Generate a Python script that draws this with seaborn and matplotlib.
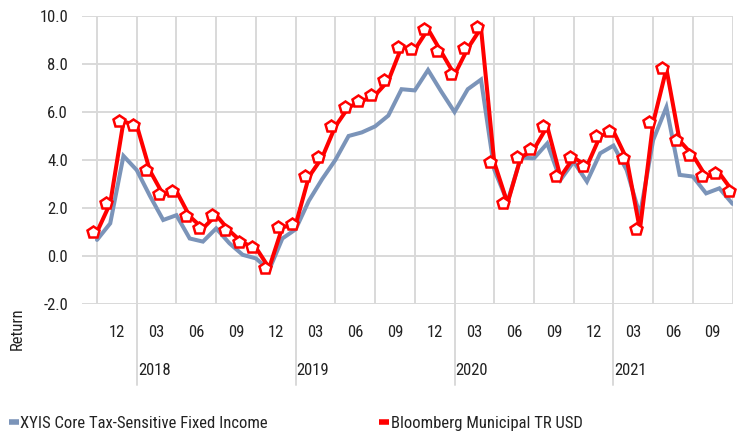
import matplotlib
matplotlib.use("Agg")
import matplotlib.pyplot as plt
import matplotlib.transforms as mtransforms
from matplotlib.lines import Line2D
from matplotlib import font_manager
import numpy as np
import pandas as pd
import seaborn as sns

# ---------------- data ----------------
months = [str(p) for p in pd.period_range("2017-09", periods=49, freq="M")]
xyis = [0.67, 1.36, 4.17, 3.58, 2.5, 1.5, 1.7, 0.73, 0.6, 1.15,
        0.53, 0.05, -0.1, -0.58, 0.73, 1.11, 2.3, 3.2, 4.0, 5.0,
        5.15, 5.4, 5.85, 6.95, 6.9, 7.75, 6.85, 6.0, 6.95, 7.35,
        3.6, 2.25, 4.1, 4.07, 4.69, 3.17, 3.93, 3.1, 4.28, 4.6,
        3.58, 1.7, 4.83, 6.2, 3.38, 3.31, 2.61, 2.82, 2.17]
bbg = [1.0, 2.2, 5.6, 5.45, 3.55, 2.55, 2.7, 1.65, 1.15, 1.7,
       1.05, 0.55, 0.35, -0.5, 1.2, 1.3, 3.3, 4.1, 5.4, 6.2,
       6.45, 6.7, 7.3, 8.7, 8.6, 9.45, 8.5, 7.55, 8.65, 9.5,
       3.9, 2.2, 4.1, 4.45, 5.4, 3.3, 4.1, 3.75, 5.0, 5.2,
       4.05, 1.1, 5.55, 7.8, 4.8, 4.2, 3.3, 3.45, 2.7]
series_names = ["XYIS Core Tax-Sensitive Fixed Income", "Bloomberg Municipal TR USD"]
quarter_labels = ["12", "03", "06", "09"] * 4
year_labels = ["2018", "2019", "2020", "2021"]
y_ticks = [-2.0, 0.0, 2.0, 4.0, 6.0, 8.0, 10.0]

colors = {series_names[0]: "#7b94b9", series_names[1]: "#ff0000"}

# ---------------- style ----------------
sns.set_theme(style="white")
names = {f.name for f in font_manager.fontManager.ttflist}
narrow = [n for n in ["Liberation Sans Narrow", "Roboto Condensed", "Open Sans Condensed",
                      "DejaVu Sans Condensed"] if n in names]
plt.rcParams["font.family"] = narrow + ["DejaVu Sans"]
plt.rcParams["font.stretch"] = "condensed"
plt.rcParams["axes.unicode_minus"] = False
TXT = "#222222"
FS = 12

W, H = 739, 436
fig = plt.figure(figsize=(W / 100, H / 100), dpi=100)
L, R, T, B = 82, 733, 16, 304
ax = fig.add_axes([L / W, 1 - B / H, (R - L) / W, (B - T) / H])

n = len(months)
idx = np.arange(n)
df = pd.DataFrame({
    "x": np.concatenate([idx, idx]),
    "value": xyis + bbg,
    "series": [series_names[0]] * n + [series_names[1]] * n,
})

sns.lineplot(data=df, x="x", y="value", hue="series", hue_order=series_names,
             palette=colors, linewidth=2.9, legend=False, ax=ax,
             sort=False, estimator=None)
for ln in ax.get_lines():
    ln.set_solid_joinstyle("miter")
ax.get_lines()[0].set_zorder(3)
ax.get_lines()[1].set_zorder(4)

# pentagon markers for the index series (drawn slightly left of the vertices as in the reference)
off = mtransforms.ScaledTranslation(-4 / 100, 0.5 / 100, fig.dpi_scale_trans)
ax.plot(idx, bbg, linestyle="none", marker="p", markersize=9.2,
        markerfacecolor="white", markeredgecolor="#ff0000", markeredgewidth=1.8,
        transform=ax.transData + off, zorder=5, clip_on=False)

# ---------------- axes ----------------
ax.set_ylim(-2, 10)
ax.set_xlim((L - 97) / 13.25, 48.03)
ax.set_yticks(y_ticks)
ax.set_yticklabels([f"{v:.1f}" for v in y_ticks])

grid_pos = np.arange(0, 49, 3)
ax.set_xticks(grid_pos)
ax.set_xticklabels([])
ax.set_xticks(grid_pos[:-1] + 1.5, minor=True)
ax.set_xticklabels(quarter_labels, minor=True)

ax.grid(True, which="major", color="#d9d9d9", linewidth=1.4)
ax.set_axisbelow(True)
for s in ax.spines.values():
    s.set_visible(False)

ax.tick_params(axis="y", length=0, pad=10, labelsize=FS, labelcolor=TXT)
ax.tick_params(axis="x", which="major", length=9.5, width=1.4, color="#d9d9d9",
               direction="out")
ax.tick_params(axis="x", which="minor", length=0, pad=15, labelsize=FS, labelcolor=TXT)
ax.set_xlabel("")
ax.set_ylabel("")

# year separators and year labels
xt = ax.get_xaxis_transform()
ax_h = B - T
for k, yl in zip([3, 15, 27, 39], year_labels):
    ax.plot([k, k], [0, -(385 - B) / ax_h], transform=xt, color="#d9d9d9",
            linewidth=1.4, clip_on=False, zorder=1)
    ax.text(k + 0.08, -(370 - B) / ax_h, yl, transform=xt, ha="left", va="center",
            fontsize=FS, color=TXT)

fig.text(17 / W, 1 - 329 / H, "Return", rotation=90, ha="center", va="center",
         fontsize=FS, color=TXT)

# ---------------- legend ----------------
handles = [Line2D([0], [0], color=colors[s], linewidth=4, solid_capstyle="butt")
           for s in series_names]
for h, s, xpx in zip(handles, series_names, [8.5, 379]):
    leg = fig.legend([h], [s], loc="center left",
                     bbox_to_anchor=(xpx / W, 1 - 423 / H),
                     frameon=False, handlelength=0.6, handletextpad=0.12,
                     borderpad=0, borderaxespad=0, fontsize=FS)
    for t in leg.get_texts():
        t.set_color(TXT)

fig.savefig("out.png", dpi=100)
